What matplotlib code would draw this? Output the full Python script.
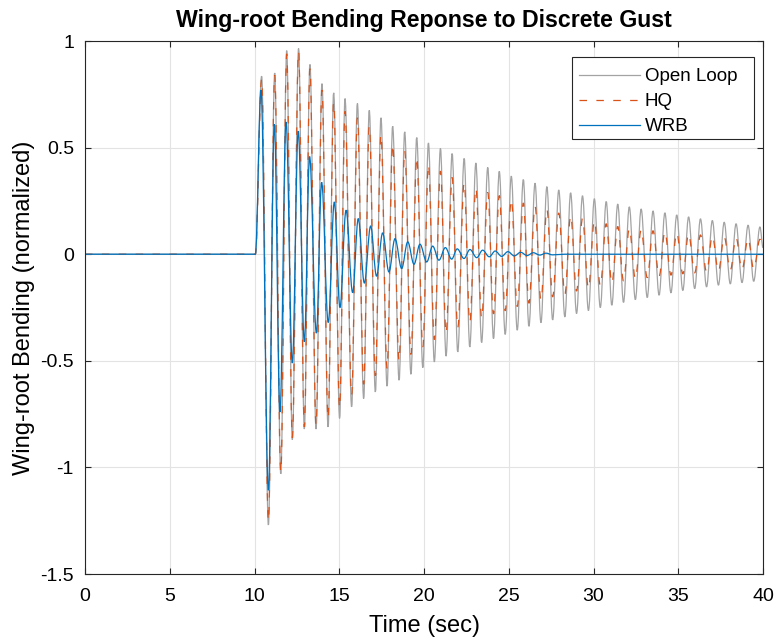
import numpy as np
import matplotlib
matplotlib.use("Agg")
import matplotlib.pyplot as plt
from matplotlib.path import Path
from matplotlib.patches import PathPatch, Rectangle
from matplotlib.lines import Line2D

plt.rcParams['font.family'] = ['Liberation Sans', 'DejaVu Sans']

# gust hits at t ~ 10 s, everything is flat before that
onset_t = [0.0, 10.05]
onset_v = [0.0, 0.0]

# Open Loop: peaks and troughs
ol_pk_t = [10.42, 11.19, 11.90, 12.60, 13.27, 13.98, 14.67, 15.34, 16.07, 16.77,
           17.46, 18.15, 18.86, 19.57, 20.26, 20.97, 21.66, 22.37, 23.06, 23.76,
           24.44, 25.15, 25.86, 26.55, 27.25, 27.95, 28.65, 29.35, 30.05, 30.75,
           31.43, 32.11, 32.81, 33.51, 34.21, 34.91, 35.61, 36.31, 37.01, 37.71,
           38.41, 39.12, 39.82]
ol_pk_v = [0.835, 0.85, 0.955, 0.965, 0.89, 0.80, 0.757, 0.73, 0.707, 0.675,
           0.64, 0.60, 0.574, 0.547, 0.522, 0.496, 0.472, 0.449, 0.428, 0.407,
           0.389, 0.366, 0.35, 0.333, 0.317, 0.301, 0.288, 0.274, 0.26, 0.247,
           0.235, 0.222, 0.212, 0.203, 0.194, 0.184, 0.175, 0.166, 0.158, 0.150,
           0.143, 0.136, 0.128]
ol_tr_t = [10.82, 11.55, 12.23, 12.94, 13.63, 14.34, 15.02, 15.73, 16.44, 17.13,
           17.82, 18.53, 19.23, 19.93, 20.61, 21.30, 21.99, 22.70, 23.40, 24.10,
           24.79, 25.50, 26.19, 26.90, 27.59, 28.31, 29.00, 29.70, 30.40, 31.08,
           31.77, 32.47, 33.17, 33.87, 34.57, 35.27, 35.97, 36.67, 37.37, 38.07,
           38.76, 39.45]
ol_tr_v = [-1.27, -1.03, -0.87, -0.82, -0.82, -0.81, -0.77, -0.716, -0.677, -0.646,
           -0.619, -0.591, -0.563, -0.532, -0.505, -0.478, -0.458, -0.435, -0.414, -0.396,
           -0.376, -0.356, -0.338, -0.321, -0.308, -0.294, -0.278, -0.264, -0.25, -0.239,
           -0.226, -0.213, -0.203, -0.192, -0.181, -0.170, -0.161, -0.153, -0.145, -0.139,
           -0.133, -0.127]
ol_end = 0.03

# HQ: same timing as open loop, decays faster
hq_pk_v = [0.82, 0.84, 0.94, 0.95, 0.87, 0.77, 0.71, 0.67, 0.64, 0.60,
           0.56, 0.515, 0.485, 0.455, 0.42, 0.39, 0.36, 0.335, 0.31, 0.29,
           0.275, 0.256, 0.24, 0.225, 0.21, 0.193, 0.18, 0.168, 0.156, 0.143,
           0.13, 0.12, 0.115, 0.11, 0.105, 0.10, 0.095, 0.09, 0.085, 0.081,
           0.077, 0.073, 0.07]
hq_tr_v = [-1.25, -1.02, -0.86, -0.81, -0.80, -0.77, -0.72, -0.66, -0.61, -0.57,
           -0.535, -0.50, -0.47, -0.435, -0.40, -0.37, -0.345, -0.32, -0.30, -0.28,
           -0.265, -0.245, -0.23, -0.215, -0.20, -0.188, -0.173, -0.16, -0.148, -0.136,
           -0.125, -0.115, -0.11, -0.104, -0.098, -0.092, -0.087, -0.083, -0.079, -0.075,
           -0.072, -0.069]
hq_end = 0.03

# WRB: well damped, dies out before ~28 s
wrb_pk_t = [10.38, 11.17, 11.86, 12.58, 13.25, 13.96, 14.71, 15.40, 16.12, 16.85,
            17.56, 18.29, 19.04, 19.76, 20.51, 21.26, 21.96, 22.71, 23.46, 24.20,
            24.95, 25.70, 26.45, 27.20]
wrb_pk_v = [0.77, 0.61, 0.62, 0.577, 0.458, 0.337, 0.245, 0.206, 0.167, 0.132,
            0.10, 0.073, 0.058, 0.047, 0.038, 0.031, 0.025, 0.022, 0.019, 0.015,
            0.012, 0.009, 0.007, 0.005]
wrb_tr_t = [10.82, 11.50, 12.23, 12.94, 13.65, 14.35, 15.04, 15.79, 16.48, 17.20,
            17.93, 18.68, 19.41, 20.16, 20.88, 21.63, 22.36, 23.11, 23.85, 24.58,
            25.33, 26.08, 26.83, 27.58]
wrb_tr_v = [-1.107, -0.74, -0.51, -0.41, -0.37, -0.32, -0.25, -0.18, -0.135, -0.103,
            -0.083, -0.067, -0.047, -0.036, -0.028, -0.023, -0.02, -0.016, -0.012, -0.010,
            -0.008, -0.006, -0.004, -0.003]
wrb_tail_t = [28.3, 40.0]
wrb_tail_v = [0.0, 0.0]

x_ticks = [0, 5, 10, 15, 20, 25, 30, 35, 40]
y_ticks = [-1.5, -1, -0.5, 0, 0.5, 1]
y_labels = ['-1.5', '-1', '-0.5', '0', '0.5', '1']

names = ['Open Loop', 'HQ', 'WRB']
colors = ['#a3a3a3', '#d95319', '#0072bd']
styles = ['-', (0, (6, 7.5)), '-']


def build(pk_t, pk_v, tr_t, tr_v, tail_t, tail_v):
    t = np.concatenate([onset_t, pk_t, tr_t, tail_t])
    v = np.concatenate([onset_v, pk_v, tr_v, tail_v])
    order = np.argsort(t)
    return t[order], v[order]


def wave_path(t, v):
    # join extrema with bezier arcs that are flat at each peak / trough
    k = 1 - 2 / np.pi
    verts = [(t[0], v[0])]
    codes = [Path.MOVETO]
    for i in range(1, len(t)):
        if v[i] == v[i - 1]:
            verts.append((t[i], v[i]))
            codes.append(Path.LINETO)
            continue
        d = k * (t[i] - t[i - 1])
        verts += [(t[i - 1] + d, v[i - 1]), (t[i] - d, v[i]), (t[i], v[i])]
        codes += [Path.CURVE4] * 3
    return Path(verts, codes)


series = [
    build(ol_pk_t, ol_pk_v, ol_tr_t, ol_tr_v, [40.0], [ol_end]),
    build(ol_pk_t, hq_pk_v, ol_tr_t, hq_tr_v, [40.0], [hq_end]),
    build(wrb_pk_t, wrb_pk_v, wrb_tr_t, wrb_tr_v, wrb_tail_t, wrb_tail_v),
]

fig = plt.figure(figsize=(7.77, 6.39), dpi=100)
ax = fig.add_axes([0.1094, 0.1017, 0.8726, 0.8341])

handles = []
for (t, v), name, c, ls in zip(series, names, colors, styles):
    ax.add_patch(PathPatch(wave_path(t, v), fill=False, edgecolor=c, lw=0.9, linestyle=ls,
                           zorder=2))
    handles.append(Line2D([], [], color=c, lw=0.9, linestyle=ls, label=name))

ax.set_xlim(0, 40)
ax.set_ylim(-1.5, 1)
ax.set_xticks(x_ticks)
ax.set_yticks(y_ticks)
ax.set_yticklabels(y_labels)
ax.tick_params(direction='in', length=4, width=0.8, labelsize=14, colors='#262626',
               top=True, right=True)
ax.tick_params(axis='x', pad=10)
ax.tick_params(axis='y', pad=8)
ax.tick_params(labelcolor='black')
ax.grid(True, color='#e3e3e3', lw=0.8)
ax.set_axisbelow(True)
for s in ax.spines.values():
    s.set_color('#262626')
    s.set_linewidth(0.8)

ax.set_xlabel('Time (sec)', fontsize=17, labelpad=7)
ax.set_ylabel('Wing-root Bending (normalized)', fontsize=17, labelpad=4)
ax.set_title('Wing-root Bending Reponse to Discrete Gust', fontsize=16.7, fontweight='bold',
             pad=10)

# legend box drawn separately so its right margin can be wider, like matlab's
box = Rectangle((0.7183, 0.8161), 0.2684, 0.1539, transform=ax.transAxes, facecolor='white',
                edgecolor='#262626', lw=0.8, zorder=4)
ax.add_patch(box)
leg = ax.legend(handles=handles, loc='upper left', bbox_to_anchor=(0.7183, 0.9625),
                borderaxespad=0, fontsize=13.5, handlelength=3.25, handletextpad=0.27,
                borderpad=0.37, labelspacing=0.42, frameon=False)
leg.set_zorder(5)

fig.savefig('out.png', dpi=100)
